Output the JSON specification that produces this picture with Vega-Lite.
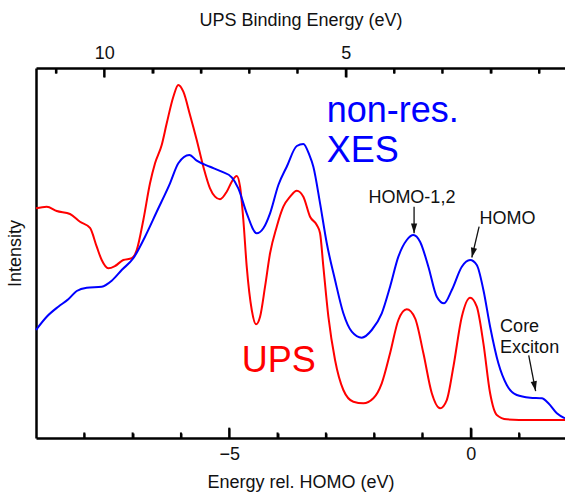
{
  "$schema": "https://vega.github.io/schema/vega-lite/v6.json",
  "width": 529,
  "height": 370,
  "autosize": "none",
  "padding": {"left": 36, "top": 68, "right": 0, "bottom": 55},
  "background": "white",
  "config": {
    "view": {"stroke": null},
    "font": "Liberation Sans",
    "axis": {
      "grid": false,
      "domainColor": "black",
      "domainWidth": 2.5,
      "tickColor": "black",
      "tickWidth": 2,
      "labelFont": "Liberation Sans",
      "labelFontSize": 18,
      "labelColor": "#111",
      "labelFlush": false,
      "titleFont": "Liberation Sans",
      "titleFontSize": 18,
      "titleFontWeight": "normal",
      "titleColor": "#111"
    }
  },
  "datasets": {
    "spectra": [
      {"series": "UPS", "energy": -9.000, "intensity": 62.08},
      {"series": "UPS", "energy": -8.778, "intensity": 62.51},
      {"series": "UPS", "energy": -8.571, "intensity": 61.35},
      {"series": "UPS", "energy": -8.296, "intensity": 60.54},
      {"series": "UPS", "energy": -8.089, "intensity": 58.46},
      {"series": "UPS", "energy": -7.882, "intensity": 56.76},
      {"series": "UPS", "energy": -7.743, "intensity": 51.70},
      {"series": "UPS", "energy": -7.640, "intensity": 48.11},
      {"series": "UPS", "energy": -7.503, "intensity": 45.86},
      {"series": "UPS", "energy": -7.364, "intensity": 46.49},
      {"series": "UPS", "energy": -7.193, "intensity": 48.11},
      {"series": "UPS", "energy": -7.019, "intensity": 48.57},
      {"series": "UPS", "energy": -6.915, "intensity": 50.81},
      {"series": "UPS", "energy": -6.778, "intensity": 58.92},
      {"series": "UPS", "energy": -6.640, "intensity": 68.84},
      {"series": "UPS", "energy": -6.536, "intensity": 74.24},
      {"series": "UPS", "energy": -6.398, "intensity": 79.19},
      {"series": "UPS", "energy": -6.294, "intensity": 85.05},
      {"series": "UPS", "energy": -6.157, "intensity": 92.24},
      {"series": "UPS", "energy": -6.054, "intensity": 95.41},
      {"series": "UPS", "energy": -5.950, "intensity": 93.59},
      {"series": "UPS", "energy": -5.812, "intensity": 87.30},
      {"series": "UPS", "energy": -5.673, "intensity": 80.54},
      {"series": "UPS", "energy": -5.536, "intensity": 73.32},
      {"series": "UPS", "energy": -5.398, "intensity": 67.49},
      {"series": "UPS", "energy": -5.294, "intensity": 65.22},
      {"series": "UPS", "energy": -5.191, "intensity": 64.51},
      {"series": "UPS", "energy": -5.052, "intensity": 66.57},
      {"series": "UPS", "energy": -4.948, "intensity": 69.27},
      {"series": "UPS", "energy": -4.845, "intensity": 70.81},
      {"series": "UPS", "energy": -4.776, "intensity": 67.92},
      {"series": "UPS", "energy": -4.708, "intensity": 58.92},
      {"series": "UPS", "energy": -4.638, "intensity": 46.30},
      {"series": "UPS", "energy": -4.534, "intensity": 34.59},
      {"series": "UPS", "energy": -4.445, "intensity": 30.73},
      {"series": "UPS", "energy": -4.362, "intensity": 32.78},
      {"series": "UPS", "energy": -4.259, "intensity": 40.89},
      {"series": "UPS", "energy": -4.155, "intensity": 49.92},
      {"series": "UPS", "energy": -4.017, "intensity": 57.11},
      {"series": "UPS", "energy": -3.880, "intensity": 62.51},
      {"series": "UPS", "energy": -3.741, "intensity": 65.22},
      {"series": "UPS", "energy": -3.602, "intensity": 66.84},
      {"series": "UPS", "energy": -3.466, "intensity": 65.22},
      {"series": "UPS", "energy": -3.327, "intensity": 59.81},
      {"series": "UPS", "energy": -3.188, "intensity": 57.57},
      {"series": "UPS", "energy": -3.120, "intensity": 55.32},
      {"series": "UPS", "energy": -3.052, "intensity": 46.30},
      {"series": "UPS", "energy": -2.948, "intensity": 32.78},
      {"series": "UPS", "energy": -2.810, "intensity": 21.08},
      {"series": "UPS", "energy": -2.638, "intensity": 12.97},
      {"series": "UPS", "energy": -2.431, "intensity": 9.81},
      {"series": "UPS", "energy": -2.224, "intensity": 9.38},
      {"series": "UPS", "energy": -2.017, "intensity": 10.73},
      {"series": "UPS", "energy": -1.843, "intensity": 14.78},
      {"series": "UPS", "energy": -1.671, "intensity": 22.89},
      {"series": "UPS", "energy": -1.499, "intensity": 31.89},
      {"series": "UPS", "energy": -1.325, "intensity": 34.78},
      {"series": "UPS", "energy": -1.153, "intensity": 32.35},
      {"series": "UPS", "energy": -0.981, "intensity": 22.89},
      {"series": "UPS", "energy": -0.807, "intensity": 12.08},
      {"series": "UPS", "energy": -0.636, "intensity": 8.03},
      {"series": "UPS", "energy": -0.497, "intensity": 10.27},
      {"series": "UPS", "energy": -0.360, "intensity": 19.27},
      {"series": "UPS", "energy": -0.186, "intensity": 32.78},
      {"series": "UPS", "energy": -0.014, "intensity": 37.92},
      {"series": "UPS", "energy": 0.124, "intensity": 35.49},
      {"series": "UPS", "energy": 0.261, "intensity": 25.59},
      {"series": "UPS", "energy": 0.400, "intensity": 12.08},
      {"series": "UPS", "energy": 0.538, "intensity": 6.22},
      {"series": "UPS", "energy": 0.745, "intensity": 5.05},
      {"series": "UPS", "energy": 1.228, "intensity": 4.86},
      {"series": "UPS", "energy": 1.950, "intensity": 4.86},

      {"series": "XES", "energy": -9.000, "intensity": 29.19},
      {"series": "XES", "energy": -8.778, "intensity": 32.78},
      {"series": "XES", "energy": -8.538, "intensity": 35.49},
      {"series": "XES", "energy": -8.331, "intensity": 37.49},
      {"series": "XES", "energy": -8.157, "intensity": 39.73},
      {"series": "XES", "energy": -7.950, "intensity": 40.62},
      {"series": "XES", "energy": -7.640, "intensity": 40.89},
      {"series": "XES", "energy": -7.433, "intensity": 42.51},
      {"series": "XES", "energy": -7.226, "intensity": 45.41},
      {"series": "XES", "energy": -6.986, "intensity": 48.57},
      {"series": "XES", "energy": -6.743, "intensity": 54.41},
      {"series": "XES", "energy": -6.501, "intensity": 61.16},
      {"series": "XES", "energy": -6.226, "intensity": 68.84},
      {"series": "XES", "energy": -6.054, "intensity": 74.24},
      {"series": "XES", "energy": -5.826, "intensity": 76.49},
      {"series": "XES", "energy": -5.673, "intensity": 74.95},
      {"series": "XES", "energy": -5.398, "intensity": 73.32},
      {"series": "XES", "energy": -5.155, "intensity": 71.97},
      {"series": "XES", "energy": -4.948, "intensity": 70.46},
      {"series": "XES", "energy": -4.812, "intensity": 67.49},
      {"series": "XES", "energy": -4.638, "intensity": 60.73},
      {"series": "XES", "energy": -4.431, "intensity": 55.32},
      {"series": "XES", "energy": -4.294, "intensity": 56.68},
      {"series": "XES", "energy": -4.155, "intensity": 60.73},
      {"series": "XES", "energy": -3.983, "intensity": 68.38},
      {"series": "XES", "energy": -3.810, "intensity": 73.32},
      {"series": "XES", "energy": -3.602, "intensity": 78.92},
      {"series": "XES", "energy": -3.466, "intensity": 79.46},
      {"series": "XES", "energy": -3.342, "intensity": 76.49},
      {"series": "XES", "energy": -3.259, "intensity": 73.32},
      {"series": "XES", "energy": -3.120, "intensity": 63.43},
      {"series": "XES", "energy": -2.981, "intensity": 52.62},
      {"series": "XES", "energy": -2.810, "intensity": 42.70},
      {"series": "XES", "energy": -2.638, "intensity": 33.70},
      {"series": "XES", "energy": -2.464, "intensity": 28.73},
      {"series": "XES", "energy": -2.257, "intensity": 27.11},
      {"series": "XES", "energy": -2.050, "intensity": 29.19},
      {"series": "XES", "energy": -1.843, "intensity": 33.70},
      {"series": "XES", "energy": -1.671, "intensity": 40.89},
      {"series": "XES", "energy": -1.499, "intensity": 49.00},
      {"series": "XES", "energy": -1.325, "intensity": 53.51},
      {"series": "XES", "energy": -1.188, "intensity": 54.86},
      {"series": "XES", "energy": -1.050, "intensity": 53.05},
      {"series": "XES", "energy": -0.878, "intensity": 46.30},
      {"series": "XES", "energy": -0.704, "intensity": 38.19},
      {"series": "XES", "energy": -0.553, "intensity": 36.41},
      {"series": "XES", "energy": -0.393, "intensity": 40.00},
      {"series": "XES", "energy": -0.186, "intensity": 46.30},
      {"series": "XES", "energy": -0.014, "intensity": 48.11},
      {"series": "XES", "energy": 0.124, "intensity": 46.76},
      {"series": "XES", "energy": 0.261, "intensity": 40.00},
      {"series": "XES", "energy": 0.400, "intensity": 30.08},
      {"series": "XES", "energy": 0.571, "intensity": 20.19},
      {"series": "XES", "energy": 0.745, "intensity": 14.32},
      {"series": "XES", "energy": 0.952, "intensity": 11.62},
      {"series": "XES", "energy": 1.228, "intensity": 10.89},
      {"series": "XES", "energy": 1.470, "intensity": 10.73},
      {"series": "XES", "energy": 1.607, "intensity": 9.38},
      {"series": "XES", "energy": 1.781, "intensity": 6.68},
      {"series": "XES", "energy": 1.950, "intensity": 5.32}
    ],
    "notes": [
      {"label": "non-res.", "group": "XES", "energy": -2.981, "intensity": 85.49},
      {"label": "XES", "group": "XES", "energy": -2.981, "intensity": 74.68},
      {"label": "UPS", "group": "UPS", "energy": -4.741, "intensity": 17.92},
      {"label": "HOMO-1,2", "group": "note", "energy": -2.120, "intensity": 63.59},
      {"label": "HOMO", "group": "note", "energy": 0.178, "intensity": 57.84},
      {"label": "Core", "group": "note", "energy": 0.607, "intensity": 28.73},
      {"label": "Exciton", "group": "note", "energy": 0.607, "intensity": 23.05}
    ],
    "arrows": [
      {"target": "HOMO-1,2", "energy": -1.174, "intensity": 55.32, "tail_energy": -1.174, "tail_intensity": 62.51},
      {"target": "HOMO", "energy": 0.021, "intensity": 48.78, "tail_energy": 0.172, "tail_intensity": 57.11},
      {"target": "Core Exciton", "energy": 1.342, "intensity": 12.70, "tail_energy": 1.199, "tail_intensity": 22.30}
    ],
    "energy_major": [{"energy": -5}, {"energy": 0}],
    "energy_minor": [
      {"energy": -8}, {"energy": -7}, {"energy": -6}, {"energy": -4},
      {"energy": -3}, {"energy": -2}, {"energy": -1}, {"energy": 1}
    ],
    "binding_major": [{"be": 10}, {"be": 5}],
    "binding_minor": [
      {"be": 11}, {"be": 9}, {"be": 8}, {"be": 7}, {"be": 6},
      {"be": 4}, {"be": 3}, {"be": 2}, {"be": 1}
    ]
  },
  "layer": [
    {
      "data": {"name": "spectra"},
      "mark": {"type": "line", "interpolate": "monotone", "strokeWidth": 2},
      "encoding": {
        "x": {
          "field": "energy",
          "type": "quantitative",
          "scale": {"domain": [-9, 1.95], "nice": false, "zero": false},
          "axis": {
            "orient": "bottom",
            "title": "Energy rel. HOMO (eV)",
            "values": [-5, 0],
            "tickSize": -10,
            "labelPadding": 17,
            "titlePadding": 10
          }
        },
        "y": {
          "field": "intensity",
          "type": "quantitative",
          "scale": {"domain": [0, 100], "nice": false, "zero": false},
          "axis": {"title": "Intensity", "ticks": false, "tickSize": 0, "labels": false, "titlePadding": 12}
        },
        "color": {
          "field": "series",
          "type": "nominal",
          "scale": {"domain": ["UPS", "XES"], "range": ["#ff0000", "#0000ff"]},
          "legend": null
        }
      }
    },
    {
      "data": {"name": "notes"},
      "transform": [{"filter": "datum.group !== 'note'"}],
      "mark": {"type": "text", "align": "left", "baseline": "alphabetic", "fontSize": 36, "font": "Liberation Sans"},
      "encoding": {
        "x": {"field": "energy", "type": "quantitative", "scale": {"domain": [-9, 1.95], "nice": false, "zero": false}, "axis": null},
        "y": {"field": "intensity", "type": "quantitative"},
        "text": {"field": "label"},
        "color": {
          "field": "group",
          "type": "nominal",
          "scale": {"domain": ["UPS", "XES"], "range": ["#ff0000", "#0000ff"]},
          "legend": null
        }
      }
    },
    {
      "data": {"name": "notes"},
      "transform": [{"filter": "datum.group === 'note'"}],
      "mark": {"type": "text", "align": "left", "baseline": "alphabetic", "fontSize": 18, "font": "Liberation Sans", "color": "#111"},
      "encoding": {
        "x": {"field": "energy", "type": "quantitative", "scale": {"domain": [-9, 1.95], "nice": false, "zero": false}, "axis": null},
        "y": {"field": "intensity", "type": "quantitative"},
        "text": {"field": "label"}
      }
    },
    {
      "data": {"name": "arrows"},
      "mark": {"type": "rule", "color": "#111", "strokeWidth": 1.3},
      "encoding": {
        "x": {"field": "energy", "type": "quantitative", "scale": {"domain": [-9, 1.95], "nice": false, "zero": false}, "axis": null},
        "y": {"field": "intensity", "type": "quantitative"},
        "x2": {"field": "tail_energy"},
        "y2": {"field": "tail_intensity"}
      }
    },
    {
      "data": {"name": "arrows"},
      "transform": [{"filter": "datum.target === 'HOMO-1,2'"}],
      "mark": {"type": "point", "shape": "M-0.32,-1L0.32,-1L0,0Z", "size": 380, "filled": true, "color": "#111", "opacity": 1, "angle": 0},
      "encoding": {
        "x": {"field": "energy", "type": "quantitative", "scale": {"domain": [-9, 1.95], "nice": false, "zero": false}, "axis": null},
        "y": {"field": "intensity", "type": "quantitative"}
      }
    },
    {
      "data": {"name": "arrows"},
      "transform": [{"filter": "datum.target === 'HOMO'"}],
      "mark": {"type": "point", "shape": "M-0.32,-1L0.32,-1L0,0Z", "size": 380, "filled": true, "color": "#111", "opacity": 1, "angle": 13},
      "encoding": {
        "x": {"field": "energy", "type": "quantitative", "scale": {"domain": [-9, 1.95], "nice": false, "zero": false}, "axis": null},
        "y": {"field": "intensity", "type": "quantitative"}
      }
    },
    {
      "data": {"name": "arrows"},
      "transform": [{"filter": "datum.target === 'Core Exciton'"}],
      "mark": {"type": "point", "shape": "M-0.32,-1L0.32,-1L0,0Z", "size": 380, "filled": true, "color": "#111", "opacity": 1, "angle": 349},
      "encoding": {
        "x": {"field": "energy", "type": "quantitative", "scale": {"domain": [-9, 1.95], "nice": false, "zero": false}, "axis": null},
        "y": {"field": "intensity", "type": "quantitative"}
      }
    },
    {
      "data": {"name": "energy_major"},
      "mark": {"type": "rule", "color": "black", "strokeWidth": 2},
      "encoding": {
        "x": {"field": "energy", "type": "quantitative", "scale": {"domain": [-9, 1.95], "nice": false, "zero": false}, "axis": null},
        "y": {"datum": 0, "type": "quantitative"},
        "y2": {"datum": 2.8}
      }
    },
    {
      "data": {"name": "energy_minor"},
      "mark": {"type": "rule", "color": "black", "strokeWidth": 2},
      "encoding": {
        "x": {
          "field": "energy",
          "type": "quantitative",
          "scale": {"domain": [-9, 1.95], "nice": false, "zero": false},
          "axis": {"orient": "bottom", "title": null, "labels": false, "domain": false, "values": [-8, -7, -6, -4, -3, -2, -1, 1], "tickSize": -5, "tickColor": "black"}
        },
        "y": {"datum": 0, "type": "quantitative"},
        "y2": {"datum": 1.5}
      }
    },
    {
      "data": {"name": "binding_major"},
      "mark": {"type": "rule", "color": "black", "strokeWidth": 2},
      "encoding": {
        "x": {
          "field": "be",
          "type": "quantitative",
          "scale": {"domain": [0.462, 11.412], "reverse": true, "nice": false, "zero": false},
          "axis": {
            "orient": "top",
            "title": "UPS Binding Energy (eV)",
            "values": [10, 5],
            "tickSize": -9,
            "labelPadding": 15,
            "titlePadding": 15
          }
        },
        "y": {"datum": 100, "type": "quantitative"},
        "y2": {"datum": 97.5}
      }
    },
    {
      "data": {"name": "binding_minor"},
      "mark": {"type": "rule", "color": "black", "strokeWidth": 2},
      "encoding": {
        "x": {
          "field": "be",
          "type": "quantitative",
          "scale": {"domain": [0.462, 11.412], "reverse": true, "nice": false, "zero": false},
          "axis": {"orient": "top", "title": null, "labels": false, "domain": false, "values": [1, 2, 3, 4, 6, 7, 8, 9, 11], "tickSize": -5, "tickColor": "black"}
        },
        "y": {"datum": 100, "type": "quantitative"},
        "y2": {"datum": 98.5}
      }
    }
  ],
  "resolve": {"scale": {"x": "independent"}, "axis": {"x": "independent"}}
}
